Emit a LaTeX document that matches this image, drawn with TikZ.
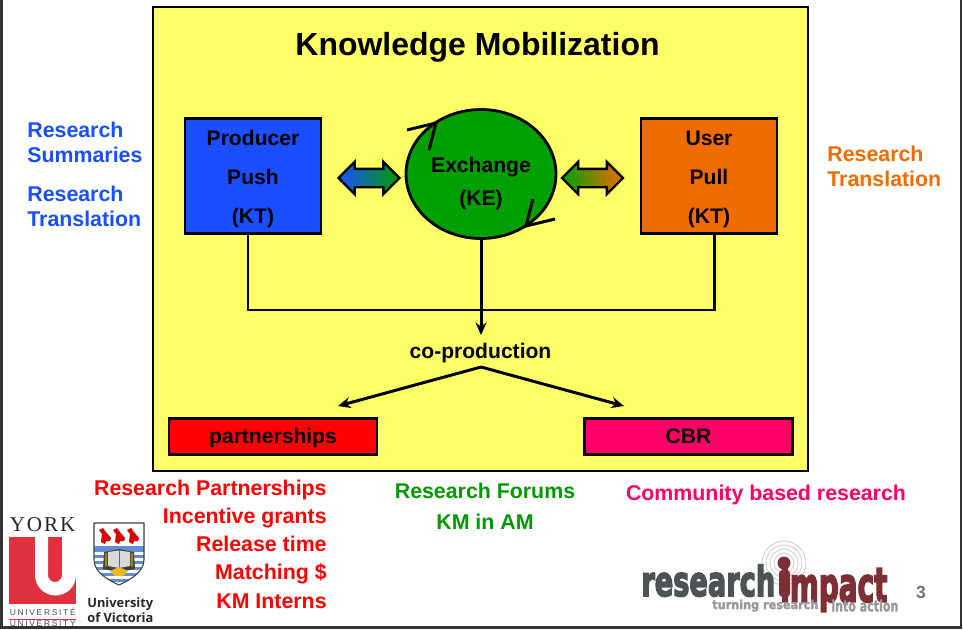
\documentclass[tikz,border=0pt]{standalone}
\usepackage{graphicx}
\usepackage{fontspec}
\setmainfont{Liberation Sans}
\newfontfamily\yorkfont[LetterSpace=9]{Liberation Serif}
\newfontfamily\yorksmall[LetterSpace=20]{Liberation Sans}
\newfontfamily\uvicfont{Open Sans}
\newfontfamily\heavyfont[FakeBold=4]{DejaVu Sans Bold}
\newfontfamily\tagfont[FakeBold=2]{DejaVu Sans Bold}
\usetikzlibrary{shapes.geometric, shapes.arrows, arrows.meta, calc}
\definecolor{panelyellow}{HTML}{FFFF66}
\definecolor{pushblue}{HTML}{1A4FFF}
\definecolor{pullorange}{HTML}{F06C00}
\definecolor{keygreen}{HTML}{009F00}
\definecolor{cbrpink}{HTML}{FF0066}
\definecolor{forumgreen}{HTML}{009900}
\definecolor{yorkred}{HTML}{E0313F}
\definecolor{impactred}{HTML}{7E2F35}
\definecolor{impactgrey}{HTML}{4D5255}
\definecolor{crestblue}{HTML}{5F8FD8}
\definecolor{crestgold}{HTML}{E8B820}
\tikzset{
    actorbox/.style={draw=black, line width=1.6pt, minimum width=2.72cm, minimum height=2.28cm,
        align=center, font=\bfseries\fontsize{12}{22.2}\selectfont}, % producer and user
    linkbox/.style={draw=black, line width=1.6pt, minimum width=4.16cm, minimum height=0.72cm,
        text height=8.8pt, text depth=0.5pt, font=\bfseries\fontsize{12}{14}\selectfont}, % bottom row
    linkline/.style={line width=1.7pt},
    linktip/.style={-{Stealth[length=2.5mm, width=2.2mm]}},
    twoway/.style={double arrow, draw=black, line width=1.3pt, minimum height=1.22cm, minimum width=0.6cm,
        inner xsep=0pt, inner ysep=0.16cm, double arrow head extend=0.14cm}, % gradient arrows
    sidetext/.style={font=\bfseries\fontsize{12.15}{14.2}\selectfont, align=left, anchor=west, inner sep=0pt},
    listtext/.style={font=\bfseries\fontsize{12.15}{14}\selectfont, anchor=base east, inner sep=0pt, text=red},
    undertext/.style={font=\bfseries\fontsize{12.15}{14}\selectfont, anchor=base, inner sep=0pt},
    logotext/.style={anchor=south west, inner sep=0pt},
}
\begin{document}
\begin{tikzpicture}[x=0.02cm, y=-0.02cm]
    \useasboundingbox (0, 0) rectangle (963, 629);
    \fill[white] (0, 0) rectangle (963, 629);
    \draw[line width=1.2pt, black!80] (1.5, 0) -- (1.5, 627.5) -- (961, 627.5) -- (961, 0);
    \draw[line width=1.6pt, fill=panelyellow] (153, 7) rectangle (808, 471);
    \node[font=\bfseries\fontsize{18.2}{22}\selectfont] (title) at (477.5, 47) {Knowledge Mobilization};
    % main row
    \node[actorbox, fill=pushblue] (producer) at (253, 176) {\rule{0pt}{12pt}Producer\\Push\\(KT)};
    \node[actorbox, fill=pullorange] (user) at (709, 176) {\rule{0pt}{12pt}User\\Pull\\(KT)};
    \node[ellipse, draw=black, line width=1.6pt, fill=keygreen, minimum width=3cm, minimum height=2.58cm,
        align=center, inner sep=0pt, font=\bfseries\fontsize{12}{18.7}\selectfont] (exchange) at (481, 174) {\rule{0pt}{20pt}Exchange\\(KE)};
    \node[twoway, left color=pushblue, right color=keygreen] (pushlink) at (369, 178) {};
    \node[twoway, left color=keygreen, right color=pullorange] (pulllink) at (592.5, 178) {};
    % marks on the circle
    \draw[linkline] (407, 130) -- (436, 123) -- (429, 150);
    \draw[linkline] (555, 219) -- (526, 226) -- (533, 199);
    % joining lines
    \coordinate (busleft) at (248, 310);
    \coordinate (busright) at (714, 310);
    \node[font=\bfseries\fontsize{12}{14}\selectfont] (coprod) at (480.5, 353) {co-production};
    \coordinate (coprodtop) at (481, 335);
    \coordinate (split) at (481, 367);
    \draw[linkline] (producer.south -| busleft) -- (busleft) -- (busright) -- (user.south -| busright);
    \draw[linkline, linktip] (exchange.south) -- (coprodtop);
    % bottom row
    \node[linkbox, fill=red] (partners) at (273, 436.5) {partnerships};
    \node[linkbox, fill=cbrpink] (cbr) at (688.5, 436.5) {CBR};
    \coordinate (partnerstip) at (338, 406);
    \coordinate (cbrtip) at (624, 406);
    \draw[linkline, linktip] (split) -- (partnerstip);
    \draw[linkline, linktip] (split) -- (cbrtip);
    % texts beside the panel
    \node[sidetext, text=pushblue] (summaries) at (27, 142.5) {Research\\Summaries};
    \node[sidetext, text=pushblue] (translationl) at (27, 206.5) {Research\\Translation};
    \node[sidetext, text=pullorange] (translationr) at (827, 166.5) {Research\\Translation};
    % lists below the panel
    \node[listtext] (listone) at (327, 495) {Research Partnerships};
    \node[listtext] (listtwo) at (327, 523) {Incentive grants};
    \node[listtext] (listthree) at (327, 551) {Release time};
    \node[listtext] (listfour) at (327, 579) {Matching \$};
    \node[listtext] (listfive) at (327, 608) {KM Interns};
    \node[undertext, text=forumgreen] (forums) at (485, 498) {Research Forums};
    \node[undertext, text=forumgreen] (kmam) at (485, 529) {KM in AM};
    \node[undertext, text=cbrpink] (community) at (766, 500) {Community based research};
    % york logo
    \node[anchor=base west, inner sep=0pt, font=\yorkfont\fontsize{12}{12}\selectfont, text=black!85] (york) at (9.5, 531) {YORK};
    \fill[yorkred] (9, 537) rectangle (76, 604);
    \fill[white] (35, 537) -- (35, 575) arc[start angle=180, end angle=360, x radius=20.5, y radius=-20.5] -- (76, 537) -- (62, 537)
        -- (62, 575) arc[start angle=360, end angle=180, x radius=7, y radius=-7] -- (48, 537) -- cycle;
    \node[anchor=base west, inner sep=0pt, font=\yorksmall\fontsize{4.8}{6}\selectfont, text=black!70] (yorkfr) at (9.5, 615) {UNIVERSITÉ};
    \draw[yorkred, line width=0.5pt] (9, 619) -- (76, 619);
    \node[anchor=base west, inner sep=0pt, font=\yorksmall\fontsize{4.8}{6}\selectfont, text=black!70] (yorken) at (9.5, 626.5) {UNIVERSITY};
    % victoria crest
    \begin{scope}
        \clip (94, 523) -- (144, 523) -- (144, 560) .. controls (144, 572) and (130, 580) .. (119, 585)
            .. controls (108, 580) and (94, 572) .. (94, 560) -- cycle;
        \fill[white] (94, 523) rectangle (144, 585);
        \fill[crestblue] (94, 546) rectangle (144, 585);
        \foreach \ystripe in {552, 558, ..., 582} {
            \fill[white] (94, \ystripe) rectangle (144, \ystripe + 2.5);
        }
    \end{scope}
    \draw[line width=0.6pt, black!75] (94, 523) -- (144, 523) -- (144, 560) .. controls (144, 572) and (130, 580) .. (119, 585)
        .. controls (108, 580) and (94, 572) .. (94, 560) -- cycle;
    \foreach \xbird in {105, 119, 133} {
        \fill[red!85!black] (\xbird - 6, 530) -- (\xbird - 2, 528) -- (\xbird + 1, 532) -- (\xbird + 6, 538) -- (\xbird + 5, 541)
            -- (\xbird + 1, 541) -- (\xbird, 544) -- (\xbird - 4, 542) -- (\xbird - 3, 534) -- cycle;
    }
    \fill[black!75] (104, 552) -- (119, 549) -- (134, 552) -- (135, 569) -- (119, 572) -- (103, 569) -- cycle;
    \fill[crestgold!70!black] (105, 553) -- (107, 553) -- (107, 566) -- (105, 567) -- cycle;
    \fill[crestgold!70!black] (133, 553) -- (131, 553) -- (131, 566) -- (133, 567) -- cycle;
    \fill[black!15] (108, 552) -- (119, 550.5) -- (130, 552) -- (130, 566) -- (119, 568) -- (108, 566) -- cycle;
    \draw[black!60, line width=0.5pt] (119, 551) -- (119, 568);
    \fill[crestgold] (110, 571) -- (119, 567) -- (128, 571) -- (123, 576) -- (115, 576) -- cycle;
    \node[anchor=base west, inner sep=0pt, font=\uvicfont\bfseries\fontsize{7.3}{8}\selectfont, text=black!85] (uvicone) at (87, 607.5) {University};
    \node[anchor=base west, inner sep=0pt, font=\uvicfont\bfseries\fontsize{7.3}{8}\selectfont, text=black!85] (uvictwo) at (87, 622) {of Victoria};
    % research impact logo
    \foreach \rring in {10, 14, 18, 22} {
        \draw[impactred!25, line width=0.5pt] (784, 563) circle (\rring);
    }
    \node[logotext, text=impactgrey] (research) at (641, 597) {\resizebox*{2.68cm}{0.64cm}{\heavyfont research}};
    \node[logotext, text=impactred] (impact) at (780, 612) {\resizebox*{2.14cm}{0.92cm}{\heavyfont impact}};
    \fill[impactred] (784, 563) circle (6.5);
    \fill[impactred, rounded corners=2pt] (779, 570) rectangle (790, 597);
    \node[logotext, text=black!40] (turning) at (712, 612) {\resizebox*{2.12cm}{0.24cm}{\tagfont turning research}};
    \node[logotext, text=black!40] (intoaction) at (831, 612) {\resizebox*{1.34cm}{0.24cm}{\tagfont into action}};
    % page number
    \node[font=\bfseries\fontsize{10}{12}\selectfont, text=black!55] (pagenum) at (921, 592) {3};
\end{tikzpicture}
\end{document}
